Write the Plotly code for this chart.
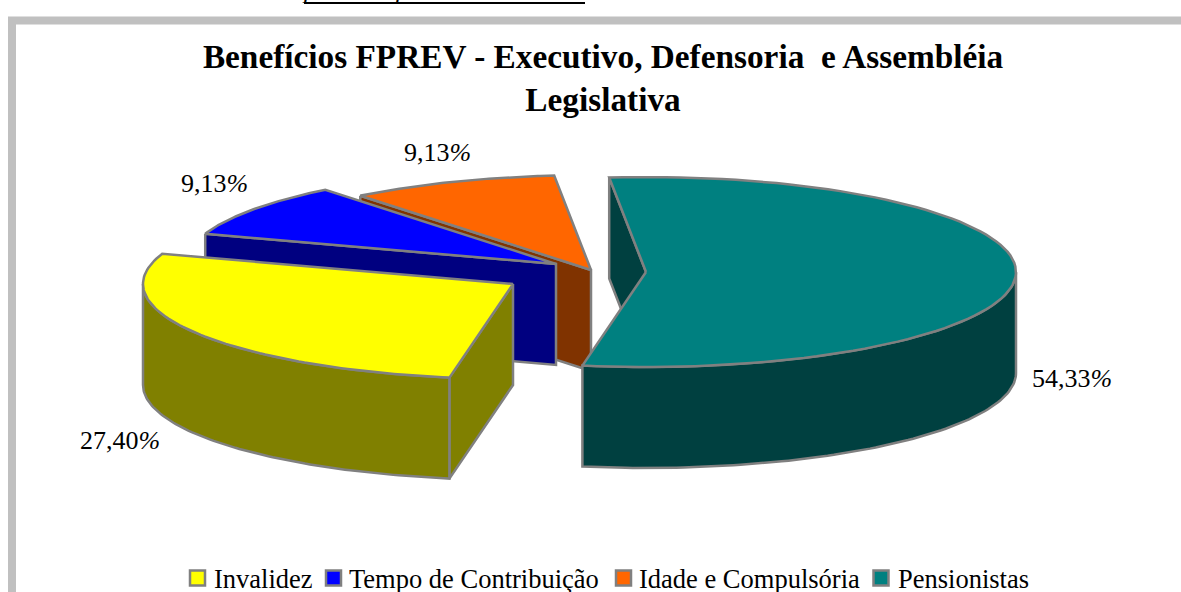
import numpy as np
import plotly.graph_objects as go

categories = ["Invalidez", "Tempo de Contribuição", "Idade e Compulsória", "Pensionistas"]
values = [27.40, 9.13, 9.13, 54.33]
top_colors = ["#ffff00", "#0000ff", "#ff6600", "#008080"]
side_colors = ["#808000", "#000080", "#803300", "#004040"]
title_lines = ["Benefícios FPREV - Executivo, Defensoria  e Assembléia", "Legislativa"]

# layout constants of the projected pie (canvas pixels)
W, H = 1181, 592
A, B, DEPTH = 370, 95, 101
START_DEG = 189.9
centers = [(513, 284), (556, 264), (591, 270), (646, 272)]
label_pos = [(120, 440), (214, 183), (437, 152), (1072, 378)]
legend_marker_x = [197.5, 333.5, 623.5, 881]
legend_text_x = [212, 347, 637, 896]
LEGEND_Y = 578
EDGE = "#808080"
LW = 2.5
FONT = "Liberation Serif"

# slice angles come from the values
spans = np.array(values) / sum(values) * 360
ends = START_DEG + np.cumsum(spans)
starts = ends - spans


def pt(c, deg):
    t = np.radians(deg)
    return c[0] + A * np.sin(t), c[1] - B * np.cos(t)


def arc(c, a0, a1):
    t = np.linspace(a0, a1, 90)
    x, y = pt(c, t)
    return list(x), list(y)


fig = go.Figure()


def poly(xs, ys, color):
    fig.add_trace(go.Scatter(x=xs + xs[:1], y=ys + ys[:1], mode="lines", fill="toself",
                             fillcolor=color, line=dict(color=EDGE, width=LW, shape="linear"),
                             showlegend=False, hoverinfo="skip"))


def edge_wall(c, deg, color):
    px, py = pt(c, deg)
    poly([px, c[0], c[0], px], [py, c[1], c[1] + DEPTH, py + DEPTH], color)


def top(c, a0, a1, color):
    x, y = arc(c, a0, a1)
    poly([c[0]] + x, [c[1]] + y, color)


def rim(c, a0, a1, color):
    x, y = arc(c, a0, a1)
    poly(x + x[::-1], y + [v + DEPTH for v in y[::-1]], color)


# back to front: pensionistas inner wall, idade, tempo, invalidez, pensionistas
edge_wall(centers[3], ends[2], side_colors[3])

edge_wall(centers[2], starts[2], side_colors[2])
top(centers[2], starts[2], ends[2], top_colors[2])

edge_wall(centers[1], starts[1], side_colors[1])
top(centers[1], starts[1], ends[1], top_colors[1])

edge_wall(centers[0], starts[0], side_colors[0])
rim(centers[0], starts[0], 270, side_colors[0])
top(centers[0], starts[0], ends[0], top_colors[0])

rim(centers[3], 90, START_DEG, side_colors[3])
top(centers[3], ends[2], ends[3], top_colors[3])

# legend swatches
fig.add_trace(go.Scatter(x=legend_marker_x, y=[LEGEND_Y] * 4, mode="markers", showlegend=False,
                         hoverinfo="skip",
                         marker=dict(symbol="square", size=15, color=top_colors,
                                     line=dict(color=EDGE, width=2.5))))

annotations = []
for (x, y), v in zip(label_pos, values):
    txt = f"{v:.2f}".replace(".", ",") + "<i>%</i>"
    annotations.append(dict(x=x, y=y, text=txt, showarrow=False, xanchor="center", yanchor="middle",
                            font=dict(family=FONT, size=26, color="black")))
for x, name in zip(legend_text_x, categories):
    annotations.append(dict(x=x, y=LEGEND_Y + 1, text=name, showarrow=False, xanchor="left", yanchor="middle",
                            font=dict(family=FONT, size=26.5, color="black")))
# descenders of the cropped line of text above the chart
for x in (309, 401):
    annotations.append(dict(xref="x", yref="paper", x=x, y=1 - 6 / H, text="<i>p</i>", showarrow=False,
                            xanchor="center", yanchor="bottom",
                            font=dict(family=FONT, size=26, color="black")))

shapes = [
    dict(type="rect", xref="x", yref="y", x0=12, y0=20.5, x1=1300, y1=800,
         line=dict(color="#c0c0c0", width=8), fillcolor="white", layer="below"),
    dict(type="line", xref="x", yref="y", x0=304, x1=585, y0=3, y1=3,
         line=dict(color="black", width=2), layer="above"),
]

fig.update_layout(
    width=W, height=H, margin=dict(l=0, r=0, t=0, b=0), showlegend=False,
    paper_bgcolor="white", plot_bgcolor="white",
    font=dict(family=FONT, size=25, color="black"),
    title=dict(text="<b>" + "<br>".join(title_lines) + "</b>", x=603 / W, xanchor="center",
               y=1 - 68 / H, yanchor="top", font=dict(family=FONT, size=33.3, color="black")),
    xaxis=dict(range=[0, W], visible=False, fixedrange=True),
    yaxis=dict(range=[H, 0], visible=False, fixedrange=True),
    annotations=annotations, shapes=shapes,
)

fig.write_html("out.html", config=dict(displayModeBar=False),
               post_script="document.body.style.margin='0';document.body.style.overflow='hidden';")
